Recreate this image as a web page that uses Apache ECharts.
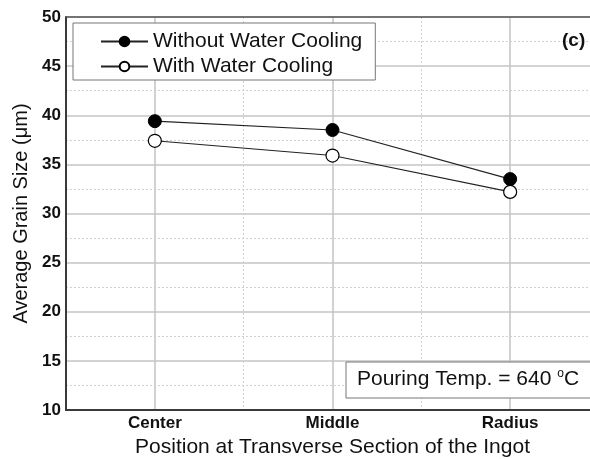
<!DOCTYPE html>
<html>
<head>
<meta charset="utf-8">
<script src="https://cdn.jsdelivr.net/npm/echarts@6/dist/echarts.min.js"></script>
<style>
  html, body { margin: 0; padding: 0; background: #fff; }
  #chart { width: 590px; height: 459px; }
</style>
</head>
<body>
<div id="chart"></div>
<script>
// data
const positions = ['Center', 'Middle', 'Radius'];
const withoutCooling = [39.4, 38.5, 33.5];
const withCooling = [37.4, 35.9, 32.2];
const yTicks = [10, 15, 20, 25, 30, 35, 40, 45, 50];

const FONT = '"Liberation Sans", Arial, sans-serif';

window.onload = function() {
    const chart = echarts.init(document.getElementById('chart'));
    const option = {
        animation: false,
        backgroundColor: '#fff',
        grid: { left: 66, width: 533, top: 17, bottom: 49, outerBoundsMode: 'none', containLabel: false },
        legend: {
            orient: 'vertical',
            left: 73,
            top: 23,
            padding: [8, 13, 3, 27],
            itemGap: 4,
            itemWidth: 47,
            itemHeight: 12,
            itemTextGap: 7,
            borderColor: '#777',
            borderWidth: 1,
            backgroundColor: '#fff',
            textStyle: { fontFamily: FONT, fontSize: 21, color: '#111' },
            data: ['Without Water Cooling', 'With Water Cooling']
        },
        xAxis: [
            {
                type: 'category',
                data: positions,
                boundaryGap: true,
                position: 'bottom',
                axisLine: { show: true, lineStyle: { color: '#3a3a3a', width: 2 } },
                axisTick: { show: false },
                axisLabel: { fontFamily: FONT, fontWeight: 'bold', fontSize: 17, color: '#111', margin: 5 },
                splitLine: { show: false },
                name: 'Position at Transverse Section of the Ingot',
                nameLocation: 'middle',
                nameGap: 26,
                nameTextStyle: { fontFamily: FONT, fontSize: 21, color: '#111' }
            },
            {
                // only draws the vertical grid lines
                type: 'value',
                min: 0,
                max: 3,
                interval: 1,
                position: 'top',
                axisLine: { show: true, onZero: false, lineStyle: { color: '#555', width: 1.5 } },
                axisTick: { show: false },
                axisLabel: { show: false },
                splitLine: { show: true, lineStyle: { color: '#d0d0d0', type: [2, 2], width: 1 } },
                minorTick: { show: false, splitNumber: 2 },
                minorSplitLine: { show: true, lineStyle: { color: '#c4c4c4', width: 1.5 } }
            }
        ],
        yAxis: {
            type: 'value',
            min: yTicks[0],
            max: yTicks[yTicks.length - 1],
            interval: 5,
            axisLine: { show: true, lineStyle: { color: '#3a3a3a', width: 2 } },
            axisTick: { show: false },
            axisLabel: { fontFamily: FONT, fontWeight: 'bold', fontSize: 17, color: '#111', margin: 5 },
            splitLine: { show: true, lineStyle: { color: '#c4c4c4', width: 1.5 } },
            minorTick: { show: false, splitNumber: 2 },
            minorSplitLine: { show: true, lineStyle: { color: '#d0d0d0', type: [2, 2], width: 1 } },
            name: 'Average Grain Size (\u03bcm)',
            nameLocation: 'middle',
            nameGap: 33,
            nameTextStyle: { fontFamily: FONT, fontSize: 20, color: '#111' }
        },
        series: [
            {
                name: 'Without Water Cooling',
                type: 'line',
                xAxisIndex: 0,
                data: withoutCooling,
                symbol: 'circle',
                symbolSize: 13,
                lineStyle: { color: '#222', width: 1.1 },
                itemStyle: { color: '#000', borderColor: '#000', borderWidth: 1 },
                z: 5
            },
            {
                name: 'With Water Cooling',
                type: 'line',
                xAxisIndex: 0,
                data: withCooling,
                symbol: 'circle',
                symbolSize: 13,
                lineStyle: { color: '#222', width: 1.1 },
                itemStyle: { color: '#fff', borderColor: '#000', borderWidth: 1.2 },
                z: 5
            }
        ],
        graphic: [
            {
                type: 'text',
                left: 562,
                top: 31,
                z: 10,
                style: { text: '(c)', font: 'bold 19px ' + FONT, fill: '#111' }
            },
            {
                type: 'rect',
                shape: { x: 346, y: 362, width: 260, height: 36 },
                z: 10,
                style: { fill: '#fff', stroke: '#777', lineWidth: 1 }
            },
            {
                type: 'text',
                left: 357,
                top: 368,
                z: 11,
                style: {
                    text: 'Pouring Temp. = 640 {s|o}C',
                    font: '21px ' + FONT,
                    fill: '#111',
                    rich: {
                        s: { fontSize: 12, fontFamily: FONT, fill: '#111', padding: [0, 0, 10, 0] }
                    }
                }
            }
        ]
    };
    chart.setOption(option);
};
</script>
</body>
</html>
